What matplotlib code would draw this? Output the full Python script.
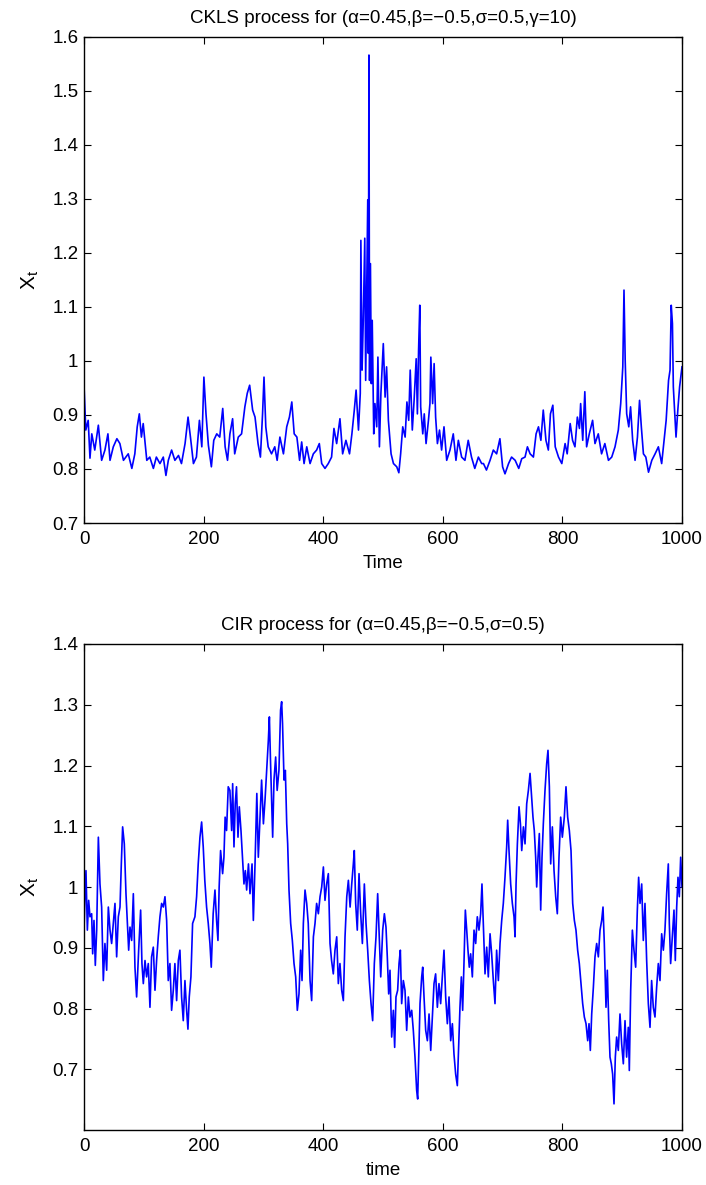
import matplotlib
matplotlib.use("Agg")
import matplotlib.pyplot as plt

plt.rcParams['font.family'] = ['Liberation Sans', 'DejaVu Sans']
plt.rcParams['mathtext.fontset'] = 'custom'
plt.rcParams['mathtext.rm'] = 'Liberation Sans'

# CKLS path (time, value)
ckls_t = [0, 3, 7, 10, 13, 18, 24, 29.5, 35, 40, 43.5, 49, 55, 60, 66, 74, 80, 85, 89, 92.5,
          96, 99, 105, 110, 116, 121, 127, 132.6, 137, 141, 146.5, 152, 158, 163, 169, 174, 178, 183, 188, 193,
          197, 200.5, 204, 208, 213, 217, 222, 227, 232, 236, 240, 244, 248.5, 252, 258, 263.5, 269, 273, 277, 282,
          286, 291, 295, 298.6, 301, 304, 308, 313.6, 319, 323, 327.6,
          333.5, 339, 343.5, 347.5, 351.5, 356, 360.5, 364, 368, 372.5, 378, 383.5, 389, 393.5, 397.5, 403, 408.5,
          414, 418, 422.5, 428, 432.5, 438, 444, 448, 452, 455, 459, 462, 463, 465, 467, 469.5, 471, 472.5, 474.5,
          475.5, 476.5, 477.5, 479, 480.5, 482, 484.5, 486.5, 489.5, 491.5, 494, 496.5, 500.5, 503.5, 506, 509,
          513.5, 517.5, 523, 526.5, 529.5, 533, 537, 540, 543, 545.5, 549, 552, 555.5, 557.5, 559.5, 561.5, 563,
          566.5, 569, 572, 576, 578.5, 580, 583, 585.5, 588, 591, 594.5, 598, 602, 606.5, 612, 617.5, 622, 626,
          631.5, 637, 642.5, 648, 653.5, 659.5, 665,
          668, 673, 679, 684.5, 690, 695.5, 700, 704, 710, 715, 721, 727, 732, 737.5, 741.5, 746, 751.5, 756, 760,
          764, 768, 772.5, 776.5, 780, 784, 788, 793.5, 799, 804.5, 808, 813, 817, 821, 825, 828.5, 830.5, 834,
          837.5, 840.5, 845, 850.5, 854.5, 860, 865.5, 871, 877, 882.5, 888, 893.5, 897.5, 901, 903, 905, 907.5,
          911, 914, 917.5, 921.5, 925.5, 929, 932, 935.5, 939.5, 944, 949.5, 955, 960.5, 966, 970, 973.5, 977.5,
          980, 982, 984, 985.5, 988, 990, 993, 996, 1000]
ckls_x = [0.955, 0.872, 0.89, 0.82, 0.865, 0.835, 0.881, 0.816, 0.835, 0.865, 0.816, 0.841, 0.856, 0.847, 0.816, 0.828, 0.801, 0.828, 0.878, 0.902,
          0.859, 0.884, 0.816, 0.822, 0.801, 0.822, 0.810, 0.822, 0.788, 0.816, 0.835, 0.816, 0.825, 0.810, 0.847, 0.896, 0.859, 0.810, 0.822, 0.890,
          0.841, 0.970, 0.902, 0.844, 0.804, 0.853, 0.865, 0.859, 0.912, 0.841, 0.816, 0.865, 0.893, 0.828, 0.859, 0.865, 0.915, 0.940, 0.955, 0.909,
          0.896, 0.847, 0.822, 0.902, 0.970, 0.878, 0.841, 0.828, 0.841, 0.816, 0.859,
          0.828, 0.878, 0.896, 0.924, 0.865, 0.859, 0.816, 0.850, 0.810, 0.841, 0.810, 0.828, 0.835, 0.847, 0.810, 0.801, 0.810,
          0.822, 0.875, 0.847, 0.893, 0.828, 0.853, 0.828, 0.865, 0.909, 0.946, 0.872, 0.940, 1.223, 0.983, 1.075, 1.227, 0.964, 1.112, 1.298,
          1.014, 1.566, 0.964, 1.180, 0.958, 1.075, 0.865, 0.921, 0.878, 1.007, 0.841, 0.940, 1.032, 0.933, 0.989, 0.890,
          0.828, 0.810, 0.804, 0.793, 0.828, 0.878, 0.859, 0.924, 0.890, 0.983, 0.872, 0.927, 1.004, 0.902, 1.020, 1.103, 0.915,
          0.865, 0.902, 0.847, 0.890, 0.921, 1.007, 0.921, 0.995, 0.896, 0.847, 0.872, 0.835, 0.878, 0.816, 0.835, 0.865, 0.816, 0.853,
          0.822, 0.816, 0.853, 0.822, 0.801, 0.822, 0.810,
          0.810, 0.798, 0.816, 0.835, 0.828, 0.856, 0.804, 0.791, 0.810, 0.822, 0.816, 0.801, 0.819, 0.822, 0.841, 0.828, 0.822, 0.865, 0.878,
          0.853, 0.909, 0.853, 0.835, 0.902, 0.918, 0.841, 0.822, 0.810, 0.847, 0.828, 0.884, 0.853, 0.841, 0.896, 0.875, 0.921, 0.853,
          0.943, 0.841, 0.865, 0.890, 0.847, 0.865, 0.828, 0.847, 0.816, 0.822, 0.841, 0.872, 0.921, 0.989, 1.131, 1.001, 0.902,
          0.878, 0.915, 0.853, 0.816, 0.859, 0.927, 0.878, 0.828, 0.822, 0.794, 0.816, 0.828, 0.841, 0.810, 0.853, 0.890, 0.964,
          0.983, 1.103, 1.069, 0.952, 0.902, 0.859, 0.909, 0.952, 0.989]

# CIR path (time, value)
cir_t = [0, 1.1, 3.3, 5.6, 7.8, 10, 12.8, 14.5, 16.7, 18.9, 21.2, 24, 26.7, 29.5, 32.3, 35, 37.9, 40.7, 43.5, 46.2,
         49, 51.8, 54.6, 57.4, 60.2, 62.4, 64.6, 67.4, 70.2, 72.4, 74.7, 76.9, 79.7, 82.5, 85.2, 88, 91.4, 94.7, 96.9, 99.2,
         102, 104.7, 107.5, 110.3, 113, 115.9, 118.7, 121.4, 124.2, 127, 129.8, 132.6, 135.4, 138.2, 140.9, 143.7, 146.5, 149.3, 152, 154.9,
         157.7, 160.4, 163.2, 166, 168.8, 171.6, 173.8, 176, 178.8, 181.6, 185.5, 188.3, 191, 193.9, 196.7, 199.4, 202, 205, 207.8, 210.6,
         212.8, 216, 219, 221.7, 224, 226, 228.4, 231.8, 234, 236, 238.4, 241.2, 244,
         246.9, 248.6, 250.8, 252.9, 255, 257.5, 259.7, 262.5, 265.3, 267.5, 269.8, 272, 275, 277.6, 281, 283.2, 286, 289, 291.5, 294.4,
         297, 300, 302.7, 305.5, 308.3, 310, 312, 315.5, 317.7, 320.5, 323, 326, 328.7, 330.5, 332, 334.5, 336.7, 339, 340.6, 342.8,
         345.6, 348.4, 351.2, 354, 356.7, 359.5, 362.3, 364.6, 366.8, 369.6, 372.4, 375, 378, 380.7, 383.6, 386.3, 389, 391.9, 394.7, 397.5,
         400.3, 403, 405.8, 408.6, 411.4, 414, 416.9, 419.7, 422.6, 425.3, 428, 430.9, 433.7, 436.5, 439.4, 442.1, 445, 447.7, 450.4, 452,
         454.3, 457, 459.9, 462.7, 465.5, 468.8, 471.6, 474.4, 477.2, 480, 482.7, 485.5, 488.3, 491.1, 494, 496.2, 499.5, 502.3,
         505, 507.2, 509.5, 511.7, 514.5, 517.3, 519.5, 521.7, 524.5, 526.8, 529, 531.2, 534, 536.8, 539.6, 542.4, 545.1, 548, 550.7, 553.5,
         556.3, 558, 560.2, 561.9, 564.7, 566.4, 568.6, 571.4, 574.2, 577, 579.8, 582.6, 585.3, 588, 590.9, 593.6, 596.4, 599.2, 602, 604.8,
         607.6, 610.4, 613.2, 616, 618.7, 621.5, 624.3, 626.5, 628.7, 631, 633.2, 635.4, 637.7, 640, 642.1, 644.3, 646.6, 649.4, 652.2, 655,
         657.7, 660.5, 663.3, 665.5, 667.7, 670.6, 673.4, 676.1, 679, 681.7, 684.5, 687.3, 690, 692.9, 695.7, 698.5, 701.2, 704, 706.8, 708.5,
         710.7, 713.5, 716.3, 719.1, 720.8, 722.5, 724.7, 727.5, 729.8, 732, 734.8, 737.5, 740.3, 743.1, 745.9,
         748.6, 750.8, 753, 755.3, 757, 759.2, 761.4, 763.7, 765.9, 768.1, 770.9, 773.7, 775.9, 778.2, 780.4, 783.2, 786, 788.8, 791.5, 794.3,
         797.1, 799.9, 803.2, 806, 808.8, 811.6, 814.4, 817.2, 820, 822.7, 825.5, 828.3, 831.1, 833.9, 836.7, 839.5, 842.3, 844.5, 846.7, 849,
         851.8, 854.5, 857.3, 860.1, 862.9, 865.7, 867.9, 870.1, 872.9, 875.1, 877.4, 879.6, 881.8, 884, 886.3, 888.5, 890.7, 893.5, 896.3, 899.1,
         901.9, 904.7, 907.4, 910.2, 911.9, 914.2, 917, 919.7, 922.5, 925.3, 927.5, 929.8, 932.6, 935.3, 938.1, 940.9, 943.7, 946.5, 949.2, 952,
         954.8, 957.6, 960.4, 963.2, 966, 968.8, 971.5, 974.3, 977.1, 978.8, 981, 983.8, 986.6, 988.8, 991.1, 993.3, 995.5, 997.8, 1000]
cir_x = [0.93, 0.967, 1.027, 0.929, 0.978, 0.951, 0.956, 0.890, 0.945, 0.871, 0.929, 1.082, 1.005, 0.967, 0.846, 0.907, 0.863, 0.967, 0.929, 0.907,
         0.940, 0.973, 0.885, 0.951, 0.967, 1.038, 1.099, 1.071, 0.989, 0.945, 0.896, 0.934, 0.912, 0.989, 0.868, 0.819, 0.896, 0.962, 0.874, 0.841,
         0.879, 0.852, 0.874, 0.802, 0.885, 0.901, 0.830, 0.879, 0.918, 0.951, 0.973, 0.967, 0.984, 0.945, 0.846, 0.874, 0.797, 0.830, 0.874, 0.813,
         0.879, 0.896, 0.819, 0.780, 0.846, 0.797, 0.766, 0.819, 0.852, 0.940, 0.951, 0.984, 1.038, 1.082, 1.107, 1.066, 1.011, 0.967, 0.940, 0.907,
         0.868, 0.956, 0.995, 0.945, 0.912, 1.000, 1.060, 1.022, 1.049, 1.115, 1.093, 1.165, 1.159,
         1.093, 1.170, 1.066, 1.137, 1.165, 1.082, 1.132, 1.093, 1.044, 1.005, 1.027, 0.995, 1.038, 0.989, 1.038, 0.945, 1.038, 1.154, 1.049, 1.115,
         1.176, 1.104, 1.143, 1.192, 1.242, 1.280, 1.203, 1.082, 1.176, 1.214, 1.159, 1.192, 1.291, 1.305, 1.269, 1.176, 1.192, 1.104, 1.071, 0.995,
         0.940, 0.912, 0.874, 0.852, 0.797, 0.824, 0.896, 0.846, 0.940, 0.995, 0.973, 0.940, 0.846, 0.813, 0.918, 0.940, 0.973, 0.956, 0.984, 1.000,
         1.033, 0.978, 1.005, 1.022, 0.907, 0.879, 0.857, 0.896, 0.918, 0.841, 0.874, 0.830, 0.813, 0.918, 0.984, 1.011, 0.967, 1.005, 1.038, 1.060,
         0.973, 0.929, 1.022, 0.956, 0.907, 1.005, 0.940, 0.896, 0.846, 0.808, 0.780, 0.874, 0.918, 0.989, 0.912, 0.852, 0.929, 0.956,
         0.934, 0.885, 0.824, 0.863, 0.753, 0.797, 0.736, 0.819, 0.830, 0.874, 0.896, 0.808, 0.846, 0.830, 0.764, 0.819, 0.786, 0.797, 0.764, 0.720,
         0.665, 0.651, 0.736, 0.808, 0.852, 0.868, 0.819, 0.764, 0.747, 0.791, 0.731, 0.786, 0.841, 0.857, 0.802, 0.841, 0.808, 0.852, 0.896, 0.819,
         0.775, 0.819, 0.747, 0.775, 0.725, 0.692, 0.673, 0.736, 0.802, 0.852, 0.797, 0.874, 0.962, 0.929, 0.896, 0.868, 0.890, 0.852, 0.929, 0.907,
         0.951, 0.929, 0.956, 1.005, 0.940, 0.857, 0.901, 0.852, 0.923, 0.890, 0.846, 0.808, 0.896, 0.846, 0.907, 0.945, 0.973, 1.016, 1.066, 1.110,
         1.060, 1.005, 0.973, 0.951, 0.918, 1.005, 1.071, 1.132, 1.104, 1.060, 1.099, 1.071, 1.137, 1.159, 1.187,
         1.148, 1.115, 1.093, 1.049, 1.000, 1.049, 1.088, 0.962, 1.049, 1.104, 1.159, 1.203, 1.225, 1.165, 1.038, 1.099, 1.027, 0.984, 0.956, 1.049,
         1.115, 1.082, 1.115, 1.165, 1.115, 1.093, 1.060, 0.973, 0.945, 0.929, 0.896, 0.874, 0.841, 0.808, 0.786, 0.775, 0.747, 0.775, 0.731, 0.791,
         0.835, 0.885, 0.907, 0.885, 0.929, 0.945, 0.967, 0.907, 0.802, 0.863, 0.780, 0.720, 0.709, 0.692, 0.643, 0.720, 0.753, 0.731, 0.791, 0.742,
         0.709, 0.780, 0.720, 0.769, 0.698, 0.830, 0.929, 0.896, 0.868, 0.962, 1.016, 0.973, 1.005, 0.912, 0.973, 0.879, 0.808, 0.769, 0.846, 0.802,
         0.786, 0.835, 0.874, 0.846, 0.923, 0.896, 0.929, 0.989, 1.038, 0.940, 0.874, 0.918, 0.962, 0.879, 0.967, 1.016, 0.984, 1.049, 1.000]

xticks = [0, 200, 400, 600, 800, 1000]
ckls_yticks = [0.7, 0.8, 0.9, 1.0, 1.1, 1.2, 1.3, 1.4, 1.5, 1.6]
cir_yticks = [0.7, 0.8, 0.9, 1.0, 1.1, 1.2, 1.3, 1.4]

FS = 13.5


def style_axes(ax, yticks):
    ax.set_xlim(0, 1000)
    ax.set_xticks(xticks)
    ax.set_xticklabels([str(v) for v in xticks])
    ax.set_yticks(yticks)
    ax.set_yticklabels(['%g' % v for v in yticks])
    ax.tick_params(direction='in', top=True, right=True, length=5, width=0.8,
                   labelsize=FS)
    ax.tick_params(axis='x', pad=6)
    ax.tick_params(axis='y', pad=4)
    for s in ax.spines.values():
        s.set_linewidth(1.0)


fig = plt.figure(figsize=(7.06, 11.85), dpi=100)

ax1 = fig.add_axes([84 / 706, 1 - 523 / 1185, 598 / 706, 486.3 / 1185])
ax1.plot(ckls_t, ckls_x, color='#0000ff', linewidth=1.2)
ax1.set_ylim(0.7, 1.6)
style_axes(ax1, ckls_yticks)
ax1.set_title('CKLS process for (\u03b1=0.45,\u03b2=\u22120.5,\u03c3=0.5,\u03b3=10)', fontsize=FS, pad=10)
ax1.set_xlabel('Time', fontsize=FS, labelpad=5)
ax1.set_ylabel(r'$\mathregular{X_t}$', fontsize=15, labelpad=8)

ax2 = fig.add_axes([84 / 706, 1 - 1130 / 1185, 598 / 706, 486 / 1185])
ax2.plot(cir_t, cir_x, color='#0000ff', linewidth=1.2)
ax2.set_ylim(0.6, 1.4)
style_axes(ax2, cir_yticks)
ax2.set_title('CIR process for (\u03b1=0.45,\u03b2=\u22120.5,\u03c3=0.5)', fontsize=FS, pad=10)
ax2.set_xlabel('time', fontsize=FS, labelpad=5)
ax2.set_ylabel(r'$\mathregular{X_t}$', fontsize=15, labelpad=8)

fig.savefig('out.png', dpi=100)
